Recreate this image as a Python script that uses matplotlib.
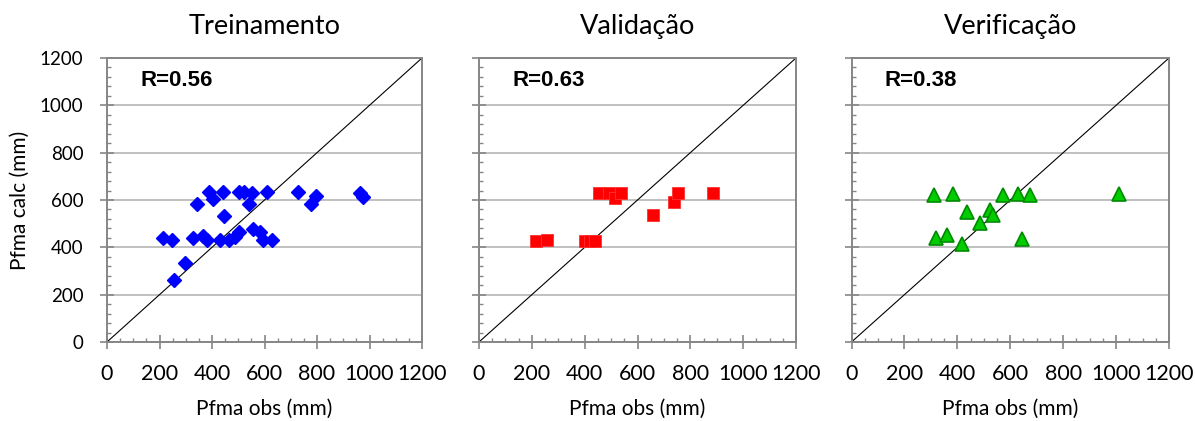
import matplotlib
matplotlib.use("Agg")
import matplotlib.pyplot as plt
from matplotlib.ticker import MultipleLocator

# Observed vs. calculated Pfma (mm) for each data split
train_obs = [212, 247, 298, 257, 326, 342, 364, 380, 389, 403, 443, 447, 431, 463, 488,
             502, 501, 523, 551, 541, 555, 583, 596, 627, 611, 726, 776, 796, 963, 976]
train_calc = [440, 430, 332, 264, 440, 582, 450, 430, 635, 604, 635, 534, 430, 430, 442,
              466, 635, 635, 631, 582, 477, 466, 430, 430, 635, 635, 583, 618, 631, 614]

valid_obs = [214, 258, 400, 420, 440, 456, 492, 516, 536, 658, 740, 753, 887]
valid_calc = [428, 430, 425, 425, 425, 630, 630, 608, 630, 538, 592, 630, 631]

verif_obs = [311, 384, 319, 362, 416, 437, 485, 523, 533, 573, 628, 674, 646, 1011]
verif_calc = [623, 627, 439, 451, 415, 549, 503, 559, 538, 620, 627, 623, 437, 627]

titles = ["Treinamento", "Validação", "Verificação"]
r_labels = ["R=0.56", "R=0.63", "R=0.38"]
ticks = [0, 200, 400, 600, 800, 1000, 1200]

plt.rcParams["font.family"] = ["Lato", "DejaVu Sans"]

fig = plt.figure(figsize=(11.95, 4.21), dpi=100)
W, H = 1195.0, 421.0
bottom = 1 - 342 / H
height = 284 / H
ax_boxes = [(107, 315), (479, 317), (851.5, 317.5)]

series = [
    (train_obs, train_calc, dict(marker="D", ms=7.2, color="#0000FF", mec="#0000FF")),
    (valid_obs, valid_calc, dict(marker="s", ms=8.0, color="#FF0000", mec="#FF3030", mew=0.6)),
    (verif_obs, verif_calc, dict(marker="^", ms=10.0, color="#00CC00", mec="#008A00", mew=1.2)),
]

grey = "#868686"
for i, ((left, width), (xs, ys, style), title, rlab) in enumerate(
        zip(ax_boxes, series, titles, r_labels)):
    ax = fig.add_axes([left / W, bottom, width / W, height])
    ax.set_xlim(0, 1200)
    ax.set_ylim(0, 1200)
    ax.set_xticks(ticks)
    ax.set_yticks(ticks)
    ax.xaxis.set_minor_locator(MultipleLocator(50))
    ax.yaxis.set_minor_locator(MultipleLocator(40))
    ax.grid(axis="y", which="major", color="#C0C0C0", linewidth=1.4, zorder=0)
    ax.set_axisbelow(True)

    ax.plot([0, 1200], [0, 1200], color="black", linewidth=0.8, zorder=2)
    ax.plot(xs, ys, linestyle="none", zorder=3, **style)

    for sp in ax.spines.values():
        sp.set_color(grey)
        sp.set_linewidth(1.4)

    ax.tick_params(which="major", direction="inout", length=10, width=1.2, color=grey)
    ax.tick_params(which="minor", direction="in", length=3, width=1.0, color=grey)
    ax.tick_params(axis="x", which="major", pad=10.5, labelsize=15.5)
    ax.tick_params(axis="y", which="major", pad=12, labelsize=13.5)
    if i > 0:
        ax.tick_params(axis="y", labelleft=False)
    else:
        ax.set_ylabel("Pfma calc (mm)", fontsize=15, labelpad=7)

    ax.set_xlabel("Pfma obs (mm)", fontsize=15, labelpad=11)
    ax.set_title(title, fontsize=19.5, pad=17)
    ax.text(0.105, 0.92, rlab, transform=ax.transAxes, fontsize=16,
            fontweight="bold", family="Liberation Sans", va="center", ha="left")

fig.savefig("out.png", dpi=100, facecolor="white")
